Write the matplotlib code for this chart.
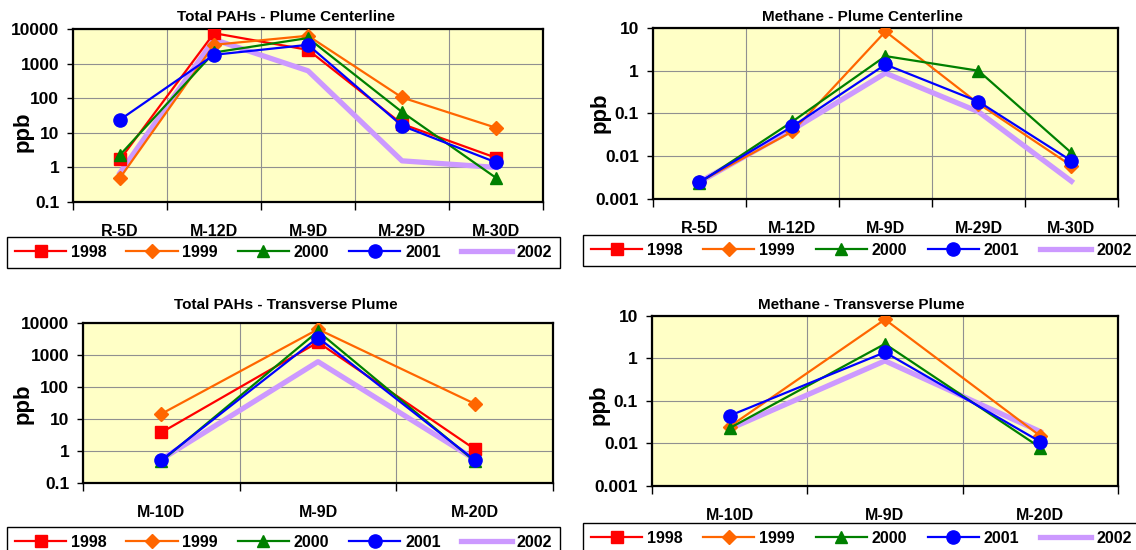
import numpy as np
import matplotlib.pyplot as plt

plt.rcParams['font.family'] = ['Liberation Sans', 'DejaVu Sans']
plt.rcParams['font.weight'] = 'bold'

# ---- data ----
years = ['1998', '1999', '2000', '2001', '2002']

center_sites = ['R-5D', 'M-12D', 'M-9D', 'M-29D', 'M-30D']
trans_sites = ['M-10D', 'M-9D', 'M-20D']

pah_ticks = [0.1, 1, 10, 100, 1000, 10000]
pah_tick_labels = ['0.1', '1', '10', '100', '1000', '10000']
ch4_ticks = [0.001, 0.01, 0.1, 1, 10]
ch4_tick_labels = ['0.001', '0.01', '0.1', '1', '10']

# Total PAHs - plume centerline (ppb)
pah_c_1998 = [1.7, 7600, 2500, 18, 1.9]
pah_c_1999 = [0.5, 3500, 6400, 105, 14]
pah_c_2000 = [2.3, 2100, 5500, 40, 0.5]
pah_c_2001 = [24, 1800, 3500, 16, 1.4]
pah_c_2002 = [0.7, 5000, 620, 1.55, 1.0]

# Methane - plume centerline (1998 not reported)
ch4_c_1998 = [np.nan, np.nan, np.nan, np.nan, np.nan]
ch4_c_1999 = [0.0025, 0.038, 8.3, 0.17, 0.006]
ch4_c_2000 = [0.0024, 0.065, 2.2, 1.0, 0.012]
ch4_c_2001 = [0.0025, 0.05, 1.4, 0.19, 0.0078]
ch4_c_2002 = [0.0025, 0.042, 0.88, 0.11, 0.0026]

# Total PAHs - transverse plume
pah_t_1998 = [3.8, 2500, 1.15]
pah_t_1999 = [14.5, 6400, 30]
pah_t_2000 = [0.48, 5500, 0.48]
pah_t_2001 = [0.52, 3500, 0.52]
pah_t_2002 = [0.55, 620, 0.55]

# Methane - transverse plume
ch4_t_1998 = [np.nan, np.nan, np.nan]
ch4_t_1999 = [0.025, 8.3, 0.015]
ch4_t_2000 = [0.023, 2.2, 0.008]
ch4_t_2001 = [0.045, 1.4, 0.011]
ch4_t_2002 = [0.022, 0.88, 0.019]

# ---- styles ----
colors = ['#FF0000', '#FF6600', '#008000', '#0000FF', '#CC99FF']
markers = ['s', 'D', '^', 'o', None]
msizes = [9, 7, 9, 9.5, 0]
lwidths = [1.6, 1.6, 1.6, 1.6, 3.8]
zorders = [4, 4, 4, 4, 3]


def draw_panel(ax, sites, series, ticks, tick_labels, ylab_xy):
    x = np.arange(len(sites))
    for i in range(len(series)):
        ax.plot(x, series[i], color=colors[i], lw=lwidths[i], marker=markers[i],
                ms=msizes[i], mec=colors[i], mfc=colors[i], zorder=zorders[i],
                label=years[i])
    ax.set_yscale('log')
    ax.set_ylim(ticks[0], ticks[-1])
    ax.set_yticks(ticks)
    ax.set_yticklabels(tick_labels, fontsize=12.5, fontweight='bold')
    ax.yaxis.set_minor_locator(plt.NullLocator())
    ax.set_xlim(-0.5, len(sites) - 0.5)
    ax.set_xticks(x)
    ax.set_xticklabels(sites, fontsize=11.5, fontweight='bold')
    ax.set_xticks(np.arange(len(sites) + 1) - 0.5, minor=True)
    ax.tick_params(axis='x', which='major', length=0, pad=16)
    ax.tick_params(axis='x', which='minor', length=6, width=1, direction='out')
    ax.tick_params(axis='y', which='major', length=4, width=1, direction='out', pad=6)
    ax.grid(True, axis='y', which='major', color='#909090', lw=0.8)
    ax.grid(True, axis='x', which='minor', color='#909090', lw=0.8)
    ax.set_axisbelow(True)
    ax.set_facecolor('#FFFFC6')
    for s in ax.spines.values():
        s.set_linewidth(1.6)
        s.set_color('black')
    ax.set_ylabel('ppb', fontsize=16, fontweight='bold')
    ax.yaxis.set_label_coords(*ylab_xy)


fig = plt.figure(figsize=(11.36, 5.5), dpi=100)

ax1 = fig.add_axes([0.0643, 0.6327, 0.4137, 0.3145])
ax2 = fig.add_axes([0.5748, 0.6382, 0.4093, 0.3109])
ax3 = fig.add_axes([0.0731, 0.1218, 0.4137, 0.2909])
ax4 = fig.add_axes([0.5739, 0.1164, 0.4102, 0.3091])

draw_panel(ax1, center_sites,
           [pah_c_1998, pah_c_1999, pah_c_2000, pah_c_2001, pah_c_2002],
           pah_ticks, pah_tick_labels, (-0.085, 0.405))
draw_panel(ax2, center_sites,
           [ch4_c_1998, ch4_c_1999, ch4_c_2000, ch4_c_2001, ch4_c_2002],
           ch4_ticks, ch4_tick_labels, (-0.092, 0.503))
draw_panel(ax3, trans_sites,
           [pah_t_1998, pah_t_1999, pah_t_2000, pah_t_2001, pah_t_2002],
           pah_ticks, pah_tick_labels, (-0.106, 0.494))
draw_panel(ax4, trans_sites,
           [ch4_t_1998, ch4_t_1999, ch4_t_2000, ch4_t_2001, ch4_t_2002],
           ch4_ticks, ch4_tick_labels, (-0.090, 0.476))

# titles are centred on each chart area (not the plot area)
fig.text(0.252, 1 - 17 / 550, 'Total PAHs - Plume Centerline', ha='center', va='center',
         fontsize=11, fontweight='bold')
fig.text(0.759, 1 - 17 / 550, 'Methane - Plume Centerline', ha='center', va='center',
         fontsize=11, fontweight='bold')
fig.text(0.252, 1 - 305 / 550, 'Total PAHs - Transverse Plume', ha='center', va='center',
         fontsize=11, fontweight='bold')
fig.text(0.758, 1 - 305 / 550, 'Methane - Transverse Plume', ha='center', va='center',
         fontsize=11, fontweight='bold')

# legends below each panel (x0, top, width)
leg_boxes = [(ax1, (0.0062, 0.569, 0.4868)),
             (ax2, (0.5132, 0.573, 0.49)),
             (ax3, (0.0062, 0.0418, 0.4868)),
             (ax4, (0.5132, 0.049, 0.49))]
for ax, (x0, top, w) in leg_boxes:
    leg = ax.legend(loc='upper left', bbox_to_anchor=(x0, top, w, 0),
                    bbox_transform=fig.transFigure,
                    ncol=5, mode='expand', frameon=True, fancybox=False, framealpha=1,
                    edgecolor='black', handlelength=3.2, handletextpad=0.3,
                    borderpad=0.5, borderaxespad=0, prop={'size': 11.5, 'weight': 'bold'})
    leg.get_frame().set_linewidth(1.0)

fig.savefig('out.png', dpi=100)
